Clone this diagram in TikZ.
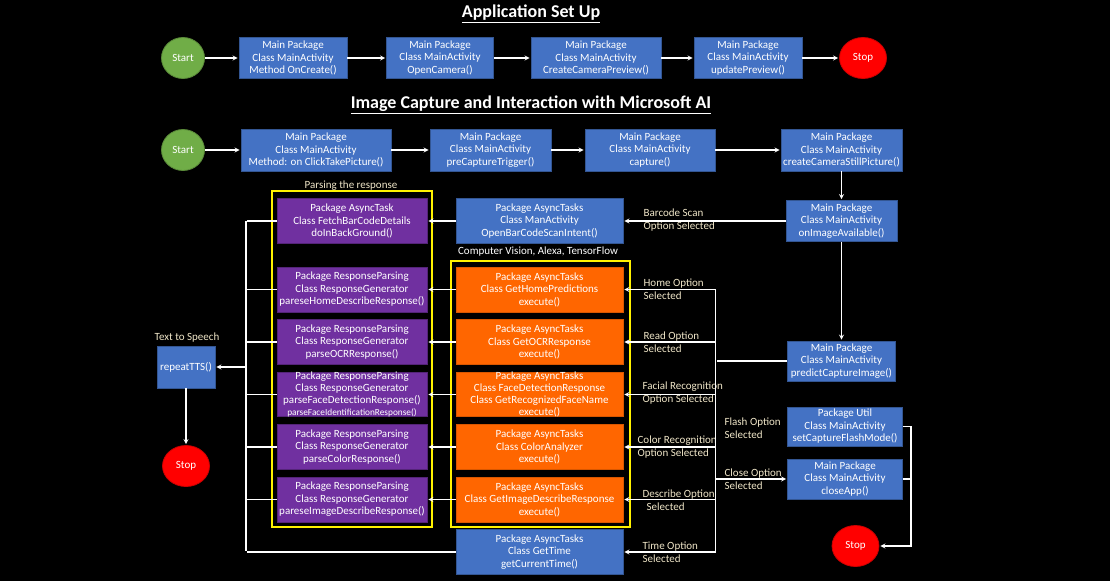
\documentclass[tikz,border=0pt]{standalone}
\usepackage{fontspec}
\setmainfont{Carlito}
\usetikzlibrary{shapes.geometric}
\definecolor{boxblue}{HTML}{4472C4}
\definecolor{boxpurple}{HTML}{7030A0}
\definecolor{boxorange}{HTML}{FF6600}
\definecolor{startgreen}{HTML}{70AD47}
\definecolor{stopred}{HTML}{FF0000}
\definecolor{cream}{RGB}{240,230,200}
\newcommand{\boxfont}{\fontsize{11}{12.5}\selectfont}

\begin{document}
\begin{tikzpicture}[->,>=stealth,shorten >=1pt,node distance=100pt,x=1pt,y=1pt,line width=1.2pt,white,
  box/.style={rectangle,draw,line width=0.8pt,text=white,align=center,font=\boxfont,inner sep=1pt},
  blue node/.style={box,fill=boxblue,draw=boxblue!75!black},
  purple node/.style={box,fill=boxpurple,draw=boxpurple!75!black,minimum width=150,minimum height=45},
  orange node/.style={box,fill=boxorange,draw=boxorange!85!black,minimum width=167,minimum height=45},
  start node/.style={ellipse,fill=startgreen,draw=startgreen!80!black,line width=0.8pt,text=white,font=\boxfont,inner sep=0pt,minimum width=43,minimum height=41},
  stop node/.style={ellipse,fill=stopred,draw=stopred!80!black,line width=0.8pt,text=white,font=\boxfont,inner sep=0pt,minimum width=47,minimum height=41},
  title/.style={font=\fontsize{18}{21}\selectfont\bfseries,text=white},
  note/.style={font=\boxfont,text=cream,inner sep=0pt},
  opt label/.style={note,align=left,anchor=west},
  frame/.style={-,draw=yellow,line width=1.6pt}]
            \useasboundingbox (0,0) rectangle (1110,-581);
            \fill[black] (0,0) rectangle (1110,-581);

            % application set up
            \node [title](t1) at (531,-14){\underline{Application Set Up}};
            \node [start node](1) at (183,-58){Start};
            \node [blue node, minimum width=108, minimum height=41.5](2) [right of=1, xshift=10]{Main Package\\Class MainActivity\\Method OnCreate()};
            \node [blue node, minimum width=107, minimum height=41.5](3) [right of=2, xshift=47]{Main Package\\Class MainActivity\\OpenCamera()};
            \node [blue node, minimum width=130, minimum height=41.5](4) [right of=3, xshift=56]{Main Package\\Class MainActivity\\CreateCameraPreview()};
            \node [blue node, minimum width=108, minimum height=41.5](5) [right of=4, xshift=52]{Main Package\\Class MainActivity\\updatePreview()};
            \node [stop node](6) [right of=5, xshift=15]{Stop};

            % image capture
            \node [title](t2) at (531,-105){\underline{Image Capture and Interaction with Microsoft AI}};
            \node [start node](7) [below of=1, yshift=8]{Start};
            \node [blue node, minimum width=150, minimum height=42](8) [right of=7, xshift=33]{Main Package\\Class MainActivity\\Method: on ClickTakePicture()};
            \node [blue node, minimum width=121, minimum height=42](9) [right of=8, xshift=74.5]{Main Package\\Class MainActivity\\preCaptureTrigger()};
            \node [blue node, minimum width=130, minimum height=42](10) [right of=9, xshift=59.5]{Main Package\\Class MainActivity\\capture()};
            \node [blue node, minimum width=121, minimum height=42](11) [right of=10, xshift=91.5]{Main Package\\Class MainActivity\\createCameraStillPicture()};

            \node [blue node, minimum width=111, minimum height=41](12) [below of=11, yshift=29]{Main Package\\Class MainActivity\\onImageAvailable()};
            \node [blue node, minimum width=108, minimum height=40](13) [below of=12, yshift=-40]{Main Package\\Class MainActivity\\predictCaptureImage()};
            \node [blue node, minimum width=115, minimum height=39](14) [below of=13, yshift=34.5, xshift=3.5]{Package Util\\Class MainActivity\\setCaptureFlashMode()};
            \node [blue node, minimum width=115, minimum height=40](15) [below of=14, yshift=47.5]{Main Package\\Class MainActivity\\closeApp()};
            \node [stop node](16) [below of=15, yshift=33, xshift=10.5]{Stop};

            % tasks
            \node [blue node, minimum width=167, minimum height=45](17) [left of=12, xshift=-202]{Package AsyncTasks\\Class ManActivity\\OpenBarCodeScanIntent()};
            \node [orange node](18) [below of=17, yshift=31.5]{Package AsyncTasks\\Class GetHomePredictions\\execute()};
            \node [orange node](19) [below of=18, yshift=47.5]{Package AsyncTasks\\Class GetOCRResponse\\execute()};
            \node [orange node, font=\fontsize{11}{12}\selectfont, inner ysep=-1.5pt, minimum height=44](20) [below of=19, yshift=47.5]{Package AsyncTasks\\Class FaceDetectionResponse\\Class GetRecognizedFaceName\\execute()};
            \node [orange node](21) [below of=20, yshift=47.5]{Package AsyncTasks\\Class ColorAnalyzer\\execute()};
            \node [orange node](22) [below of=21, yshift=47.5]{Package AsyncTasks\\Class GetImageDescribeResponse\\execute()};
            \node [blue node, minimum width=167, minimum height=45](23) [below of=22, yshift=47.5]{Package AsyncTasks\\Class GetTime\\getCurrentTime()};

            % parsing
            \node [purple node](24) [left of=17, xshift=-87.5]{Package AsyncTask\\Class FetchBarCodeDetails\\doInBackGround()};
            \node [purple node](25) [left of=18, xshift=-87.5]{Package ResponseParsing\\Class ResponseGenerator\\pareseHomeDescribeResponse()};
            \node [purple node](26) [left of=19, xshift=-87.5]{Package ResponseParsing\\Class ResponseGenerator\\parseOCRResponse()};
            \node [purple node, font=\fontsize{11}{12}\selectfont, inner ysep=-1.5pt, minimum height=44](27) [left of=20, xshift=-87.5]{Package ResponseParsing\\Class ResponseGenerator\\parseFaceDetectionResponse()\\{\fontsize{9.3}{11}\selectfont parseFaceIdentificationResponse()}};
            \node [purple node](28) [left of=21, xshift=-87.5]{Package ResponseParsing\\Class ResponseGenerator\\parseColorResponse()};
            \node [purple node](29) [left of=22, xshift=-87.5]{Package ResponseParsing\\Class ResponseGenerator\\pareseImageDescribeResponse()};

            \node [blue node, minimum width=58, minimum height=42](30) [left of=26, xshift=-66, yshift=-25]{repeatTTS()};
            \node [stop node](31) [below of=30, yshift=1]{Stop};

            \draw[frame] (272,-191) rectangle (432,-527);
            \draw[frame] (451,-261) rectangle (630,-527);
            \node [note](n1) at (351,-186){Parsing the response};
            \node [note, text=white](n2) at (538,-252){Computer Vision, Alexa, TensorFlow};
            \node [note](n3) at (187,-338){Text to Speech};

            \node [opt label](o1) at (643,-220){Barcode Scan\\Option Selected};
            \node [opt label](o2) at (643,-289){Home Option\\Selected};
            \node [opt label](o3) at (643,-342){Read Option\\Selected};
            \node [opt label](o4) at (642,-393){Facial Recognition\\Option Selected};
            \node [opt label](o5) at (637,-447){Color Recognition\\Option Selected};
            \node [opt label](o6) at (642,-500){Describe Option\\\hspace{4pt}Selected};
            \node [opt label](o7) at (642,-552){Time Option\\Selected};
            \node [opt label](o8) at (724,-428){Flash Option\\Selected};
            \node [opt label](o9) at (724,-479){Close Option\\Selected};

            \coordinate (r1) at (715.5,-289.5);
            \coordinate (r2) at (715.5,-552);
            \coordinate (l1) at (246,-221);
            \coordinate (l2) at (246,-552);
            \coordinate (k1) at (911,-546);

            \path
                (1) edge (2)
                (2) edge (3)
                (3) edge (4)
                (4) edge (5)
                (5) edge (6)
                (7) edge (8)
                (8) edge (9)
                (9) edge (10)
                (10) edge (11)
                (11) edge (12)
                (12) edge (17)
                (12) edge (13)
                (17) edge (24)
                (18) edge (25)
                (19) edge (26)
                (20) edge (27)
                (21) edge (28)
                (22) edge (29)
                (30) edge (31)
                ;

            % option bus
            \draw[-] (r1) -- (r2);
            \draw[-] (13) -- (13 -| r1);
            \path
                (18 -| r1) edge (18)
                (19 -| r1) edge (19)
                (20 -| r1) edge (20)
                (21 -| r1) edge (21)
                (22 -| r1) edge (22)
                (23 -| r1) edge (23)
                (15 -| r1) edge (15)
                ;

            % responses to speech
            \draw[-] (l1) -- (l2);
            \foreach \n in {24,...,29,23}
                \draw[-] (\n) -- (\n -| l1);
            \draw (30 -| l1) -- (30);

            % flash and close
            \draw (14) -| (k1) -- (16);
            \draw[-] (15) -- (15 -| k1);
        \end{tikzpicture}
\end{document}
